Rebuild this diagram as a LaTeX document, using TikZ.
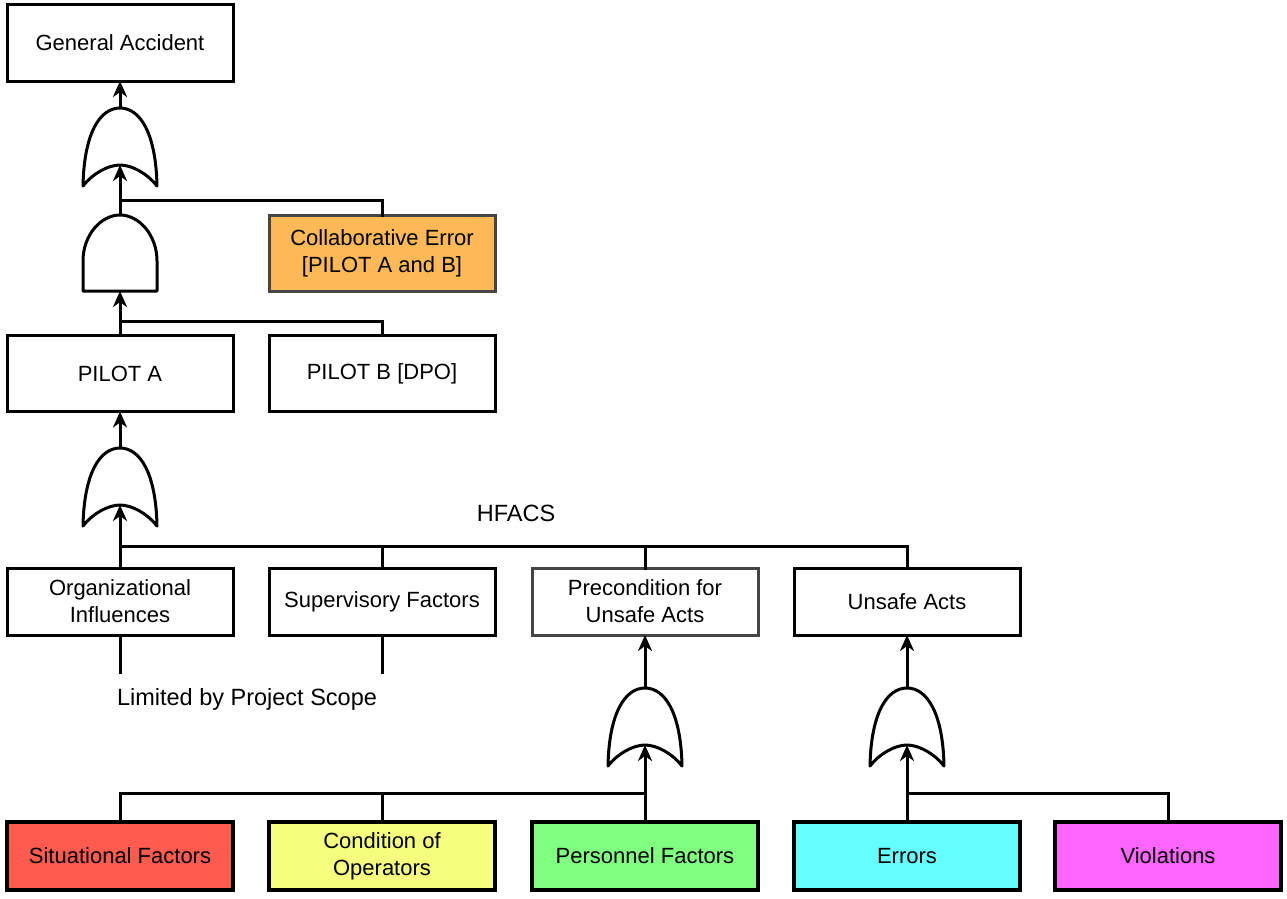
\documentclass[tikz,border=0pt]{standalone}
\usepackage{fontspec}
\setmainfont{Liberation Sans}
\usetikzlibrary{arrows.meta}

\definecolor{sitred}{HTML}{FF5B4F}
\definecolor{condyellow}{HTML}{F5FF7D}
\definecolor{persgreen}{HTML}{80FF80}
\definecolor{errcyan}{HTML}{66FFFF}
\definecolor{violmag}{HTML}{FF66FF}
\definecolor{collorange}{HTML}{FDB955}
\definecolor{edgegrey}{HTML}{454545}

\tikzset{
  box/.style={draw=black, line width=3pt, fill=white, minimum width=226pt,
    minimum height=76pt, inner sep=0pt, outer sep=0pt, align=center,
    font=\fontsize{22}{27}\selectfont},
  rowbox/.style={box, minimum height=67pt},
  leafbox/.style={box, line width=4pt, minimum height=68pt},
  greybox/.style={draw=edgegrey},
  wire/.style={line width=3pt, line cap=rect},
  feed/.style={line width=3pt, -{Stealth[length=16pt,width=14pt,inset=5pt]}},
  gateline/.style={line width=3pt, fill=white, line join=round},
  label/.style={font=\fontsize{23.5}{28}\selectfont, inner sep=0pt},
  % OR gate: origin at the apex, input at the middle of the concave base
  orgate/.pic={
    \draw[gateline] (-37,78) .. controls (-36,25) and (-20,0) .. (0,0)
      .. controls (20,0) and (36,25) .. (37,78)
      .. controls (28,66) and (12,57) .. (0,57)
      .. controls (-12,57) and (-28,66) .. (-37,78) -- cycle;
    \coordinate (-out) at (0,0);
    \coordinate (-in) at (0,57);
  },
  % AND gate: origin at the top of the dome, input at the middle of the flat base
  andgate/.pic={
    \draw[gateline] (-37,76) -- (-37,46) .. controls (-37,20) and (-19,0) .. (0,0)
      .. controls (19,0) and (37,20) .. (37,46) -- (37,76) -- cycle;
    \coordinate (-out) at (0,0);
    \coordinate (-in) at (0,76);
  }
}

\begin{document}
\begin{tikzpicture}[x=1pt, y=-1pt]
\useasboundingbox (0,0) rectangle (1287,899);

% upper chain
\node[box] (acc) at (120,43) {General Accident};
\node[box, greybox, fill=collorange] (coll) at (382,253) {Collaborative Error\\{}[PILOT A and B]};
\node[box] (pa) at (120,373.5) {PILOT A};
\node[box] (pb) at (382,373.5) {PILOT B [DPO]};

% HFACS levels
\node[rowbox] (org) at (120,601.5) {Organizational\\Influences};
\node[rowbox] (sup) at (382,601.5) {Supervisory Factors};
\node[rowbox, greybox] (pre) at (645,601.5) {Precondition for\\Unsafe Acts};
\node[rowbox] (ua) at (907,601.5) {Unsafe Acts};

% basic events
\node[leafbox, fill=sitred] (sit) at (120,856) {Situational Factors};
\node[leafbox, fill=condyellow] (cond) at (382,856) {Condition of\\Operators};
\node[leafbox, fill=persgreen] (pers) at (645,856) {Personnel Factors};
\node[leafbox, fill=errcyan] (err) at (907,856) {Errors};
\node[leafbox, fill=violmag] (viol) at (1168,856) {Violations};

% labels
\node[label] (hfacs) at (516,513) {HFACS};
\node[label] (scope) at (247,699) {Limited by Project Scope};

% gates
\pic (g1) at (120,108) {orgate};
\pic (g2) at (120,215) {andgate};
\pic (g3) at (120,448) {orgate};
\pic (g4) at (645,688) {orgate};
\pic (g5) at (907,688) {orgate};

% junctions and open ends
\coordinate (j1) at (120,200);
\coordinate (j2) at (120,321);
\coordinate (j3) at (120,546);
\coordinate (j4) at (645,793);
\coordinate (j5) at (907,793);
\coordinate (orgend) at (120,672);
\coordinate (supend) at (382,672);

% gate outputs
\draw[feed] (g1-out) -- (acc.south);
\draw[feed] (g3-out) -- (pa.south);
\draw[feed] (g4-out) -- (pre.south);
\draw[feed] (g5-out) -- (ua.south);

% gate inputs
\draw[feed] (g2-out) -- (g1-in);
\draw[wire] (coll.north) |- (j1);
\draw[feed] (pa.north) -- (g2-in);
\draw[wire] (pb.north) |- (j2);
\draw[feed] (org.north) -- (g3-in);
\draw[wire] (ua.north) |- (j3);
\draw[wire] (sup.north) -- (sup.north |- j3);
\draw[wire] (pre.north) -- (pre.north |- j3);
\draw[feed] (pers.north) -- (g4-in);
\draw[wire] (sit.north) |- (j4);
\draw[wire] (cond.north) -- (cond.north |- j4);
\draw[feed] (err.north) -- (g5-in);
\draw[wire] (viol.north) |- (j5);

% levels left open
\draw[wire] (org.south) -- (orgend);
\draw[wire] (sup.south) -- (supend);
\end{tikzpicture}
\end{document}
